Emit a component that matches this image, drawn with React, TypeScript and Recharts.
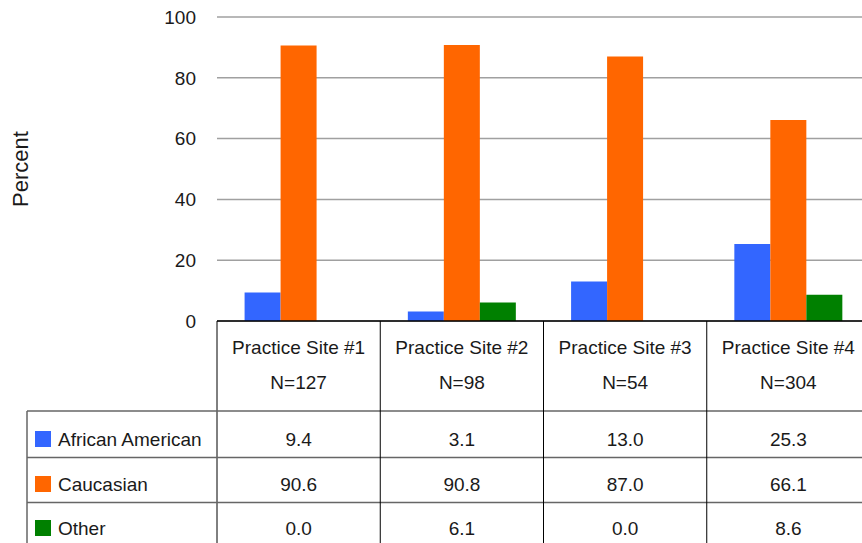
import React from 'react';
import { BarChart, Bar, XAxis, YAxis, CartesianGrid } from 'recharts';

const sites = ['Practice Site #1', 'Practice Site #2', 'Practice Site #3', 'Practice Site #4'];
const sampleSizes = ['N=127', 'N=98', 'N=54', 'N=304'];
const africanAmerican = [9.4, 3.1, 13.0, 25.3];
const caucasian = [90.6, 90.8, 87.0, 66.1];
const other = [0.0, 6.1, 0.0, 8.6];
const yTicks = [0, 20, 40, 60, 80, 100];

const series = [
    { key: 'africanAmerican', name: 'African American', color: '#3366ff', values: africanAmerican },
    { key: 'caucasian', name: 'Caucasian', color: '#ff6600', values: caucasian },
    { key: 'other', name: 'Other', color: '#008000', values: other },
];

const data = sites.map((site, i) => ({
    site,
    n: sampleSizes[i],
    africanAmerican: africanAmerican[i],
    caucasian: caucasian[i],
    other: other[i],
}));

const WIDTH = 862;
const HEIGHT = 543;
const PLOT_LEFT = 217;
const PLOT_TOP = 17;
const RIGHT_OVERHANG = 8; // the source chart is cut off a little on the right
const TABLE_HEIGHT = 222;
const COL_W = (WIDTH + RIGHT_OVERHANG - PLOT_LEFT) / sites.length;
const FONT = "'Liberation Sans', Arial, sans-serif";
const TEXT = '#1a1a1a';

// row geometry of the data table, relative to the x axis line
const HEADER_BOTTOM = 90;
const ROW_LINES = [90, 136.5, 181.5];
const ROW_CENTERS = [118, 163, 207];
const TABLE_LEFT = 27;

const TableColumn = (props: any) => {
    const { x, y, payload } = props;
    const i = payload.index;
    const left = x - COL_W / 2;
    return (
        <g fontFamily={FONT} fontSize={19} fill={TEXT}>
            <line x1={left} y1={y} x2={left} y2={HEIGHT} stroke="#000" strokeWidth={1} />
            <text x={x} y={y + 26} textAnchor="middle" dominantBaseline="central">{sites[i]}</text>
            <text x={x} y={y + 61} textAnchor="middle" dominantBaseline="central">{sampleSizes[i]}</text>
            {series.map((s, r) => (
                <text key={s.key} x={x} y={y + ROW_CENTERS[r]} textAnchor="middle" dominantBaseline="central">
                    {s.values[i].toFixed(1)}
                </text>
            ))}
            {i === 0 && (
                <g>
                    {ROW_LINES.map((ly) => (
                        <line key={ly} x1={TABLE_LEFT} y1={y + ly} x2={WIDTH} y2={y + ly} stroke="#666" strokeWidth={1.5} />
                    ))}
                    <line x1={TABLE_LEFT} y1={y + HEADER_BOTTOM} x2={TABLE_LEFT} y2={HEIGHT} stroke="#666" strokeWidth={1.5} />
                    {series.map((s, r) => (
                        <g key={s.key}>
                            <rect x={35} y={y + ROW_CENTERS[r] - 8} width={16} height={16} fill={s.color} />
                            <text x={58} y={y + ROW_CENTERS[r]} dominantBaseline="central">{s.name}</text>
                        </g>
                    ))}
                </g>
            )}
        </g>
    );
};

const YLabel = ({ viewBox }: any) => {
    const cx = viewBox.x + 20;
    const cy = viewBox.y + viewBox.height / 2;
    return (
        <text
            x={cx}
            y={cy}
            transform={`rotate(-90, ${cx}, ${cy})`}
            textAnchor="middle"
            dominantBaseline="central"
            fontFamily={FONT}
            fontSize={22}
            fill={TEXT}
        >
            Percent
        </text>
    );
};

export default function App() {
    return (
        <div style={{ position: 'absolute', left: 0, top: 0, width: WIDTH, height: HEIGHT, background: '#fff', overflow: 'hidden' }}>
            <BarChart
                width={WIDTH}
                height={HEIGHT}
                data={data}
                margin={{ top: PLOT_TOP, right: -RIGHT_OVERHANG, left: 0, bottom: 0 }}
                barCategoryGap="16.9%"
                barGap={0}
            >
                <CartesianGrid vertical={false} stroke="#a0a0a0" strokeWidth={1.5} />
                <YAxis
                    width={PLOT_LEFT}
                    domain={[0, 100]}
                    ticks={yTicks}
                    axisLine={false}
                    tickLine={false}
                    tickMargin={15}
                    tick={{ fontFamily: FONT, fontSize: 19, fill: TEXT }}
                    label={<YLabel />}
                />
                <XAxis
                    dataKey="site"
                    height={TABLE_HEIGHT}
                    axisLine={{ stroke: '#000', strokeWidth: 1.5 }}
                    tickLine={false}
                    tickSize={0}
                    tickMargin={0}
                    interval={0}
                    tick={<TableColumn />}
                />
                {series.map((s) => (
                    <Bar key={s.key} dataKey={s.key} name={s.name} fill={s.color} isAnimationActive={false} />
                ))}
            </BarChart>
        </div>
    );
}
